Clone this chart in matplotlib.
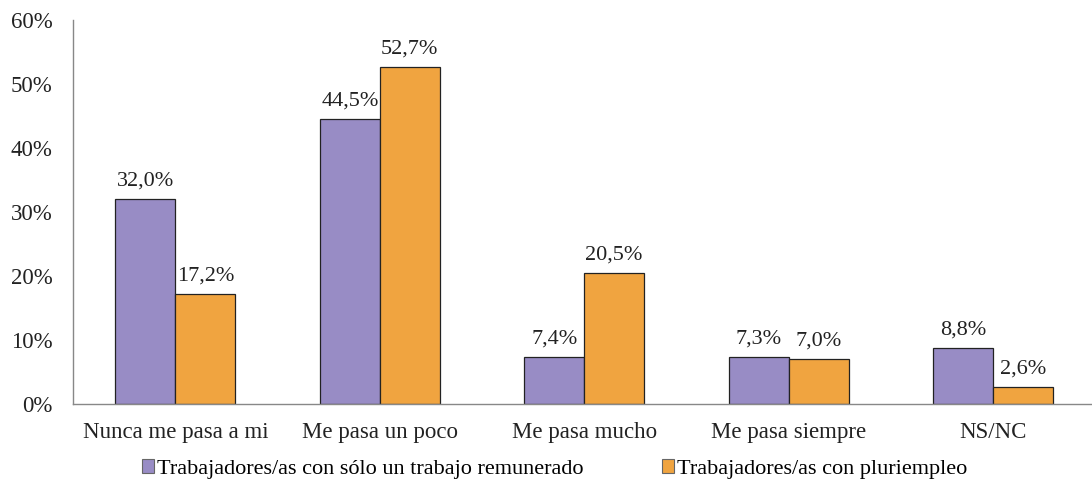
import matplotlib
matplotlib.use("Agg")
import matplotlib.pyplot as plt
import numpy as np

categories = ["Nunca me pasa a mi", "Me pasa un poco", "Me pasa mucho", "Me pasa siempre", "NS/NC"]
solo_trabajo = [32.0, 44.5, 7.4, 7.3, 8.8]
pluriempleo = [17.2, 52.7, 20.5, 7.0, 2.6]
series_labels = ["Trabajadores/as con sólo un trabajo remunerado",
                 "Trabajadores/as con pluriempleo"]
yticks = [0, 10, 20, 30, 40, 50, 60]

plt.rcParams["font.family"] = ["Liberation Serif", "DejaVu Serif"]

fig = plt.figure(figsize=(10.92, 4.86), dpi=100)
ax = fig.add_axes([0.067, 0.169, 0.936, 0.79])

x = np.arange(len(categories))
w = 0.293
purple = "#988cc5"
orange = "#f0a440"
b1 = ax.bar(x - w / 2, solo_trabajo, w, color=purple, edgecolor="#222222", linewidth=0.9,
            label=series_labels[0])
b2 = ax.bar(x + w / 2, pluriempleo, w, color=orange, edgecolor="#222222", linewidth=0.9,
            label=series_labels[1])

def fmt(v):
    return f"{v:.1f}%".replace(".", ",")

for bars, vals in ((b1, solo_trabajo), (b2, pluriempleo)):
    for b, v in zip(bars, vals):
        ax.text(b.get_x() + b.get_width() / 2, v + 1.3, fmt(v), ha="center", va="bottom",
                fontsize=16, color="#222222")

ax.set_xlim(-0.5, len(categories) - 0.5)
ax.set_ylim(0, 60)
ax.set_yticks(yticks)
ax.set_yticklabels([f"{t}%" for t in yticks], fontsize=16.5, color="#222222")
ax.set_xticks(x)
ax.set_xticklabels(categories, fontsize=16.5, color="#222222")
ax.tick_params(axis="x", length=0, pad=13)
ax.tick_params(axis="y", length=0, pad=15)
for s in ("top", "right"):
    ax.spines[s].set_visible(False)
for s in ("left", "bottom"):
    ax.spines[s].set_color("#888888")
    ax.spines[s].set_linewidth(1.0)

leg = fig.legend(handles=[b1, b2], labels=series_labels, loc="center", ncol=2,
                 bbox_to_anchor=(0.508, 0.035), frameon=False, fontsize=16,
                 handlelength=0.55, handleheight=0.55, handletextpad=0.15, columnspacing=3.5)
for h in leg.legend_handles:
    h.set_edgecolor("#666666")
    h.set_linewidth(0.8)

fig.savefig("out.png", dpi=100, facecolor="white")
